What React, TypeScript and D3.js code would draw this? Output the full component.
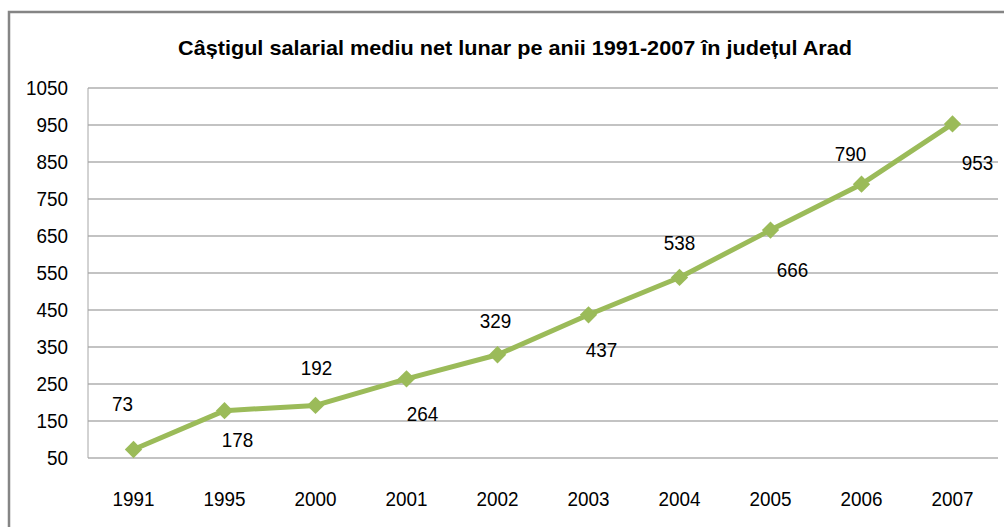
import React from "react";
import * as d3 from "d3";

const years = ["1991", "1995", "2000", "2001", "2002", "2003", "2004", "2005", "2006", "2007"];
const values = [73, 178, 192, 264, 329, 437, 538, 666, 790, 953];
const yTicks = [50, 150, 250, 350, 450, 550, 650, 750, 850, 950, 1050];
// manual label offsets (dx, dy) relative to each point
const labelDx = [-11, 13, 1, 16, -2, 13, 0, 22, -11, 25];
const labelDy = [-46, 29, -38, 35, -34, 35, -35, 40, -31, 39];
const title = "Câștigul salarial mediu net lunar pe anii 1991-2007 în județul Arad";

const W = 1004, H = 527;
const left = 88, right = 998, top = 88, bottom = 458;
const FONT = "'Liberation Sans', Arial, sans-serif";
const FS = 21;
const SX = 0.9;

function T({ x, y, anchor = "middle", children, size = FS }: any) {
  return (
    <text
      transform={`translate(${x},${y}) scale(${SX},1)`}
      textAnchor={anchor}
      dominantBaseline="central"
      fontFamily={FONT}
      fontSize={size}
      fill="#000"
    >
      {children}
    </text>
  );
}

export default function App() {
  const x = d3.scaleBand<string>().domain(years).range([left, right]);
  const y = d3.scaleLinear().domain([50, 1050]).range([bottom, top]);
  const cx = (i: number) => (x(years[i]) as number) + x.bandwidth() / 2;
  const line = d3.line<number>().x((_, i) => cx(i)).y((d) => y(d));
  const marker = d3.symbol().type(d3.symbolSquare).size(150)();

  return (
    <svg width={W} height={H} style={{ position: "absolute", left: 0, top: 0, background: "#fff" }}>
      <rect x={9} y={12} width={1100} height={600} fill="#fff" stroke="#858585" strokeWidth={2.5} />
      <text
        x={178}
        y={55}
        textLength={674}
        lengthAdjust="spacingAndGlyphs"
        fontFamily={FONT}
        fontWeight="bold"
        fontSize={21}
        fill="#000"
      >
        {title}
      </text>
      {yTicks.map((t) => (
        <g key={t}>
          <line x1={left} x2={right} y1={y(t)} y2={y(t)} stroke="#878787" strokeWidth={1} />
          <T x={68} y={y(t)} anchor="end">{t}</T>
        </g>
      ))}
      <line x1={left} x2={left} y1={top} y2={bottom} stroke="#a6a6a6" strokeWidth={1} />
      {years.map((yr, i) => (
        <T key={yr} x={cx(i)} y={499}>{yr}</T>
      ))}
      <path d={line(values) || ""} fill="none" stroke="#9bbb59" strokeWidth={5} strokeLinejoin="round" />
      {values.map((v, i) => (
        <path key={i} d={marker || ""} transform={`translate(${cx(i)},${y(v)}) rotate(45)`} fill="#9bbb59" />
      ))}
      {values.map((v, i) => (
        <T key={"l" + i} x={cx(i) + labelDx[i]} y={y(v) + labelDy[i]}>{v}</T>
      ))}
    </svg>
  );
}
